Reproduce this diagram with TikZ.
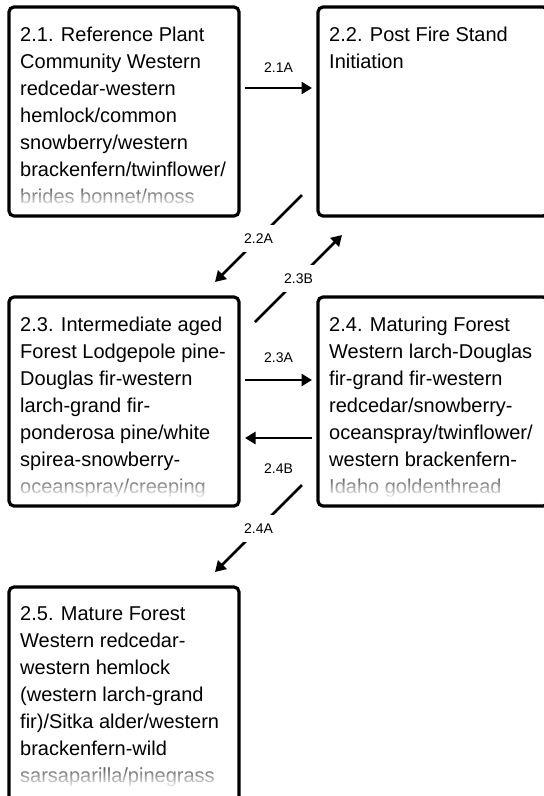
\documentclass[tikz,border=0pt]{standalone}
\usepackage{fontspec}
\setmainfont{Liberation Sans}
\usetikzlibrary{calc,arrows.meta}

\begin{document}
\begin{tikzpicture}[x=1pt,y=-1pt]
\tikzstyle{stage}=[draw,line width=3.2pt,rounded corners=5pt,minimum width=230pt,minimum height=209pt,inner sep=0pt,outer sep=0pt,anchor=north west]
\tikzstyle{stagetext}=[anchor=north west,align=left,inner sep=0pt,font=\fontsize{20}{27}\selectfont]
\tikzstyle{trans}=[line width=2.8pt,-{Triangle[length=10.5pt,width=12pt]}]
\tikzstyle{translabel}=[font=\fontsize{14}{16}\selectfont,inner sep=0pt]
\tikzstyle{crosslabel}=[translabel,fill=white,inner xsep=1pt,inner ysep=9pt]

\useasboundingbox (0,0) rectangle (544,796);
\clip (0,0) rectangle (544,796);

% stages
\node[stage] (s21) at (9,7) {};
\node[stage] (s22) at (318,7) {};
\node[stage] (s23) at (9,297) {};
\node[stage] (s24) at (318,297) {};
\node[stage,minimum height=230pt] (s25) at (9,587) {};

\node[stagetext] (t21) at ($(s21.north west)+(11,19.5)$) {2.1. Reference Plant\\Community Western\\redcedar-western\\hemlock/common\\snowberry/western\\brackenfern/twinflower/\\brides bonnet/moss};
\node[stagetext] (t22) at ($(s22.north west)+(11,19.5)$) {2.2. Post Fire Stand\\Initiation};
\node[stagetext] (t23) at ($(s23.north west)+(11,19.5)$) {2.3. Intermediate aged\\Forest Lodgepole pine-\\Douglas fir-western\\larch-grand fir-\\ponderosa pine/white\\spirea-snowberry-\\oceanspray/creeping};
\node[stagetext] (t24) at ($(s24.north west)+(11,19.5)$) {2.4. Maturing Forest\\Western larch-Douglas\\fir-grand fir-western\\redcedar/snowberry-\\oceanspray/twinflower/\\western brackenfern-\\Idaho goldenthread};
\node[stagetext] (t25) at ($(s25.north west)+(11,19.5)$) {2.5. Mature Forest\\Western redcedar-\\western hemlock\\(western larch-grand\\fir)/Sitka alder/western\\brackenfern-wild\\sarsaparilla/pinegrass};

% fade the last line
\foreach \b in {s21,s23,s24,s25}
{
  \foreach \i [evaluate=\i as \op using 0.38+\i*0.062] in {0,...,9}
  {
    \fill[white,opacity=\op] ($(\b.north west)+(3,181+2*\i)$) rectangle ($(\b.north west)+(227,183.3+2*\i)$);
  }
}

% transitions
\draw[trans] ($(s21.east)+(6,-23.5)$) -- node[translabel,above=14pt]{2.1A} ($(s22.west)+(-6,-23.5)$);
\draw[trans] ($(s23.east)+(6,-21.5)$) -- node[translabel,above=16pt]{2.3A} ($(s24.west)+(-6,-21.5)$);
\draw[trans] ($(s24.west)+(-6,36.5)$) -- node[translabel,below=24pt]{2.4B} ($(s23.east)+(6,36.5)$);

\draw[trans] ($(s22.south west)+(-16,-21)$) -- node[crosslabel]{2.2A} ($(s23.north east)+(-24,-15)$);
\draw[trans] ($(s23.north east)+(16,25)$) -- node[crosslabel]{2.3B} ($(s22.south west)+(24,19)$);
\draw[trans] ($(s24.south west)+(-16,-21)$) -- node[crosslabel]{2.4A} ($(s25.north east)+(-24,-15)$);

\end{tikzpicture}
\end{document}
